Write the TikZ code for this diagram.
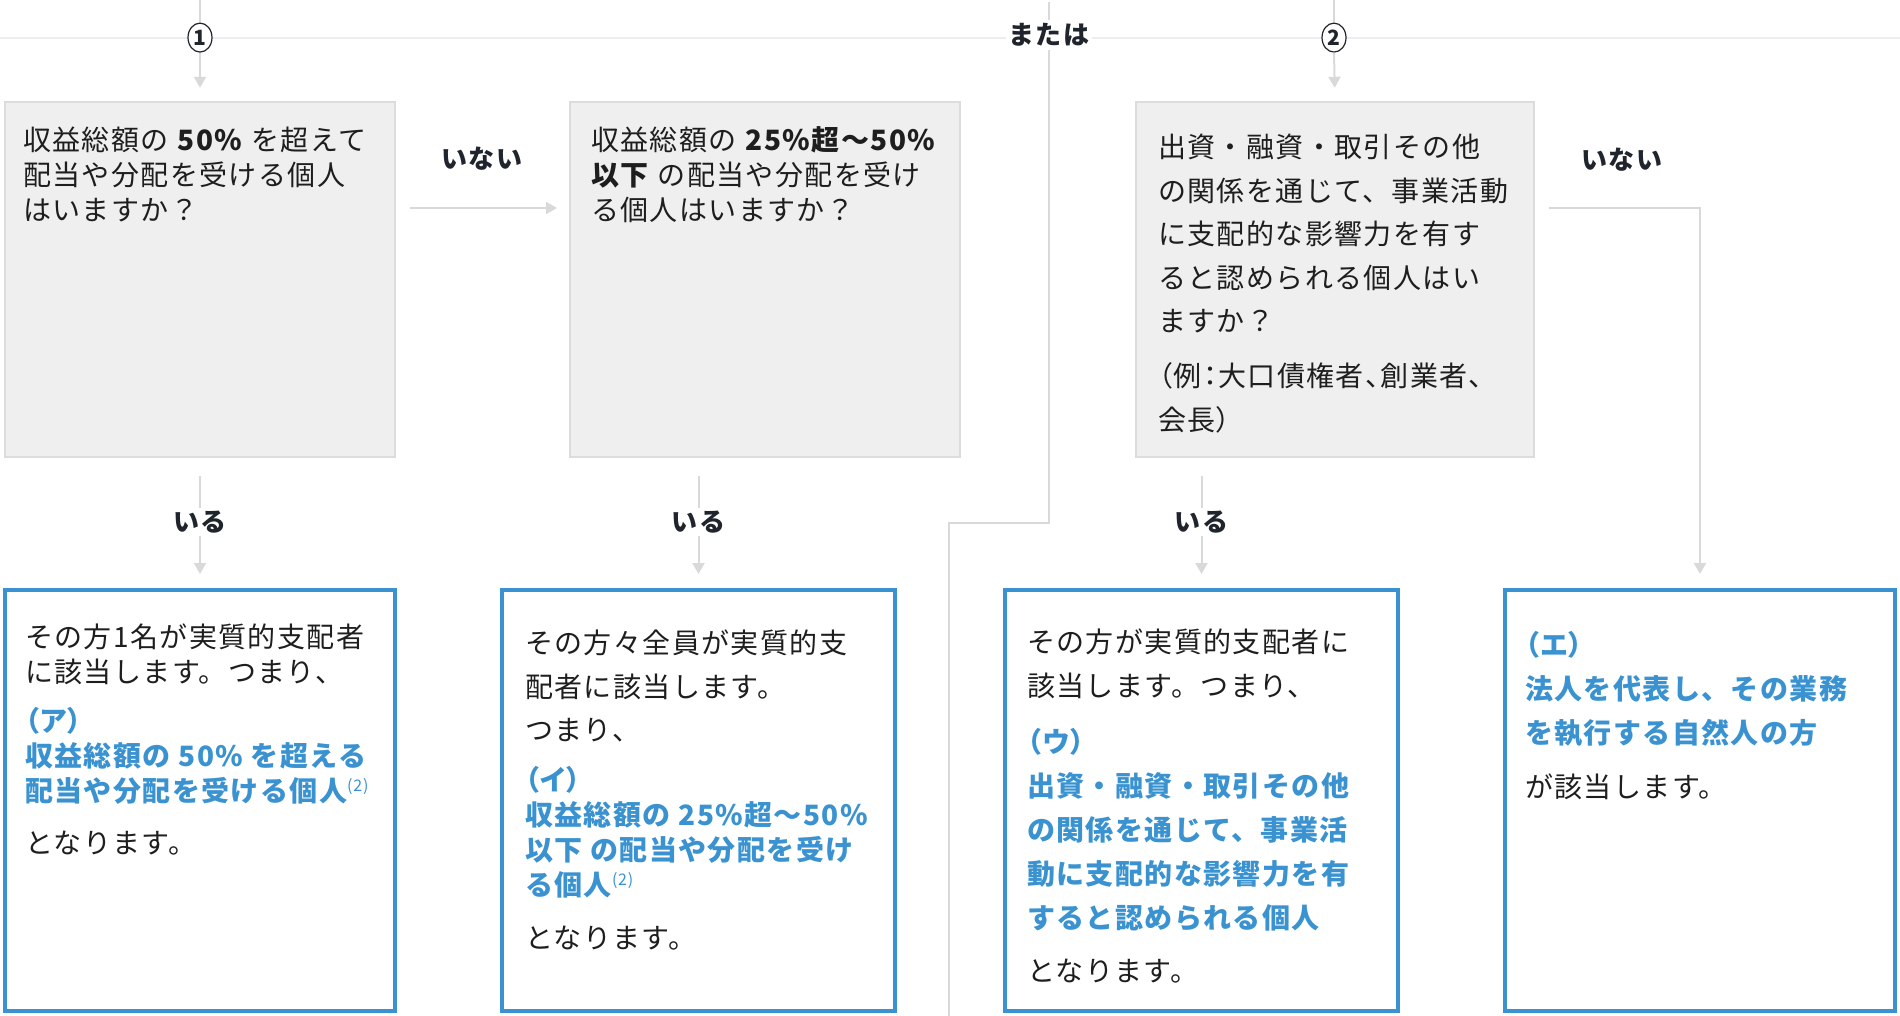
\documentclass[tikz,border=0pt]{standalone}
\usepackage{fontspec}
\setmainfont{Noto Sans CJK JP}[LetterSpace=5]
\usetikzlibrary{positioning,arrows.meta,shapes.geometric}
\definecolor{GrisCaja}{HTML}{EFEFEF}
\definecolor{GrisBorde}{HTML}{DCDCDC}
\definecolor{GrisLinea}{HTML}{D9D9D9}
\definecolor{GrisTope}{HTML}{EDEDED}
\definecolor{AzulCaja}{HTML}{3A93D0}
\definecolor{TextoOscuro}{HTML}{1E1E1E}
\definecolor{EtiquetaOscura}{HTML}{20242C}
\newcommand{\Alto}{\rule{0pt}{0.95em}}
\newcommand{\Azul}[1]{{\bfseries\color{AzulCaja}#1}}
\newcommand{\Clave}[1]{{\bfseries\color{AzulCaja}\addfontfeature{RawFeature=+palt}#1}}
\newcommand{\Nota}[1]{\raisebox{10pt}{\fontsize{16}{16}\selectfont\mdseries\color{AzulCaja}#1}}
\tikzstyle{PreguntaBox}=[rectangle, draw=GrisBorde, fill=GrisCaja, line width=2pt, minimum width=390pt, minimum height=355pt, inner sep=0pt]
\tikzstyle{ResultadoBox}=[rectangle, draw=AzulCaja, fill=white, line width=4pt, minimum width=390pt, minimum height=421pt, inner sep=0pt]
\tikzstyle{Texto}=[anchor=north west, align=left, inner sep=0pt, text=TextoOscuro]
\tikzstyle{Etiqueta}=[font=\bfseries\fontsize{26}{26}\selectfont, text=EtiquetaOscura, inner sep=3pt]
\tikzstyle{Numero}=[ellipse, draw=EtiquetaOscura, line width=1.2pt, fill=white, inner sep=0pt, minimum width=24pt, minimum height=29pt, font=\bfseries\fontsize{21}{21}\selectfont, text=EtiquetaOscura]
\tikzstyle{Linea}=[draw=GrisLinea, line width=2pt]
\tikzstyle{LineaTope}=[draw=GrisTope, line width=2pt]
\tikzstyle{Flecha}=[Linea, -{Triangle[width=12pt,length=11pt]}]
\begin{document}
\begin{tikzpicture}[x=1pt, y=-1pt]
			\useasboundingbox (0,0) rectangle (1900,1016);

			%Linea superior
			\coordinate (tope_izq) at (0,37.6);
			\coordinate (tope_der) at (1900,37.6);
			\draw[LineaTope] (tope_izq) -- (tope_der);

			%Nodos
			\node[PreguntaBox]	(q1)	at (200,279.3)	{};
			\node[PreguntaBox]	(q2)	[right=173pt of q1]	{};
			\node[PreguntaBox, minimum width=398pt]	(q3)	at (1335,279.3)	{};

			\node[ResultadoBox]	(r1)	at (200,800.5)	{};
			\node[ResultadoBox, minimum width=393pt]	(r2)	at (698.5,800.5)	{};
			\node[ResultadoBox, minimum width=393pt]	(r3)	at (1201.5,800.5)	{};
			\node[ResultadoBox]	(r4)	at (1700,800.5)	{};

			\node[Numero]	(num1)	at (200,37.6)	{1};
			\node[Numero]	(num2)	at (1334,37.6)	{2};
			\node[Etiqueta, fill=white]	(ormark)	at (1049,35)	{または};

			\node[Etiqueta]	(no1)	at (482,159)	{いない};
			\node[Etiqueta]	(no2)	at (1622,160)	{いない};
			\node[Etiqueta]	(si1)	at (200,522)	{いる};
			\node[Etiqueta]	(si2)	at (698.5,522)	{いる};
			\node[Etiqueta]	(si3)	at (1201.5,522)	{いる};

			%Textos
			\node[Texto, font=\fontsize{28}{35}\selectfont]	(q1_txt)	at (23,124)
				{\Alto 収益総額の \textbf{50\%} を超えて\\配当や分配を受ける個人\\はいますか？};
			\node[Texto, font=\fontsize{28}{35}\selectfont]	(q2_txt)	at (591,124)
				{\Alto 収益総額の \textbf{25\%超〜50\%}\\\textbf{以下} の配当や分配を受け\\る個人はいますか？};
			\node[Texto, font=\fontsize{28}{43.5}\selectfont]	(q3_txt)	at (1158,131)
				{\Alto 出資・融資・取引その他\\の関係を通じて、事業活動\\に支配的な影響力を有す\\ると認められる個人はい\\ますか？\\[11.5pt]{\addfontfeature{RawFeature=+palt}（例：大口債権者、創業者、}\\{\addfontfeature{RawFeature=+palt}会長）}};

			\node[Texto, font=\fontsize{28}{35}\selectfont]	(r1_txt)	at (25,621)
				{\Alto その方1名が実質的支配者\\に該当します。つまり、\\[14pt]\Clave{（ア）}\\\Azul{収益総額の 50\% を超える}\\\Azul{配当や分配を受ける個人}\Nota{(2)}\\[17pt]となります。};
			\node[Texto, font=\fontsize{28}{35}\selectfont]	(r2_txt)	at (525,627)
				{\Alto その方々全員が実質的支\\[9pt]配者に該当します。\\[8pt]つまり、\\[15pt]\Clave{（イ）}\\\Azul{収益総額の 25\%超〜50\%}\\\Azul{以下 の配当や分配を受け}\\\Azul{る個人}\Nota{(2)}\\[18pt]となります。};
			\node[Texto, font=\fontsize{28}{44}\selectfont]	(r3_txt)	at (1027,626)
				{\Alto その方が実質的支配者に\\該当します。つまり、\\[12pt]\Clave{（ウ）}\\\Azul{出資・融資・取引その他}\\\Azul{の関係を通じて、事業活}\\\Azul{動に支配的な影響力を有}\\\Azul{すると認められる個人}\\[9pt]となります。};
			\node[Texto, font=\fontsize{28}{44}\selectfont]	(r4_txt)	at (1525,629)
				{\Alto\Clave{（エ）}\\\Azul{法人を代表し、その業務}\\\Azul{を執行する自然人の方}\\[10pt]が該当します。};

			%Lineas
			\coordinate (ent1) at (200,0);
			\coordinate (ent2) at (1334,0);
			\draw[Linea] (ent1) -- (num1.north);
			\draw[Flecha, shorten >=13pt] (num1.south) -- (q1.north);
			\draw[Linea] (ent2) -- (num2.north);
			\draw[Flecha, shorten >=13pt] (num2.south) -- (q3.north);

			\coordinate (div_ini) at (1049,2);
			\coordinate (div_a) at (1049,523);
			\coordinate (div_b) at (949,523);
			\coordinate (div_fin) at (949,1016);
			\draw[Linea] (div_ini) -- (ormark.north);
			\draw[Linea] (ormark.south) -- (div_a) -- (div_b) -- (div_fin);

			\coordinate (no1_ini) at (410,208);
			\draw[Flecha, shorten >=12pt] (no1_ini) -- (no1_ini -| q2.west);
			\coordinate (no2_ini) at (1549,208);
			\draw[Flecha, shorten >=14pt] (no2_ini) -- (no2_ini -| r4.north) -- (r4.north);

			\coordinate (si1_ini) at (200,476);
			\coordinate (si2_ini) at (698.5,476);
			\coordinate (si3_ini) at (1201.5,476);
			\draw[Linea] (si1_ini) -- (si1.north);
			\draw[Flecha, shorten >=14pt] (si1.south) -- (r1.north);
			\draw[Linea] (si2_ini) -- (si2.north);
			\draw[Flecha, shorten >=14pt] (si2.south) -- (r2.north);
			\draw[Linea] (si3_ini) -- (si3.north);
			\draw[Flecha, shorten >=14pt] (si3.south) -- (r3.north);

		\end{tikzpicture}
\end{document}
